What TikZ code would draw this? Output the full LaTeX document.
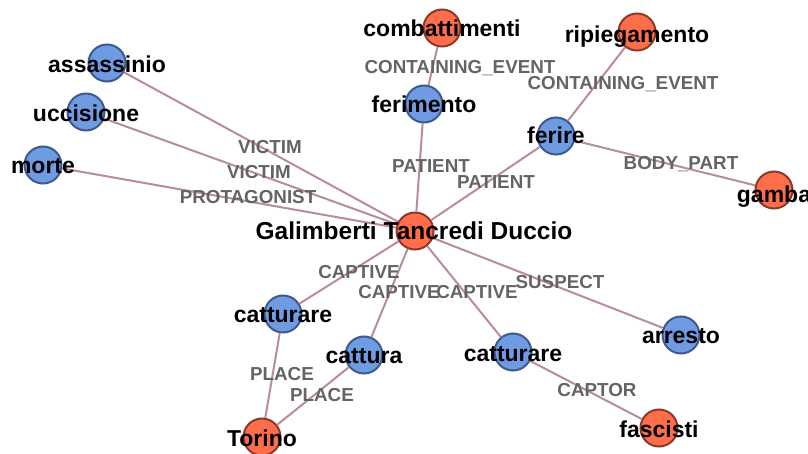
\documentclass[tikz,border=0pt]{standalone}
\usepackage{fontspec}
\setmainfont{Liberation Sans}
\definecolor{bfill}{RGB}{111,155,227}
\definecolor{bdraw}{RGB}{61,90,140}
\definecolor{ofill}{RGB}{255,110,74}
\definecolor{odraw}{RGB}{139,58,42}
\definecolor{edgec}{RGB}{185,140,155}
\definecolor{elabc}{RGB}{100,100,100}
\begin{document}
\begin{tikzpicture}[x=1pt,y=-1pt,
  bnode/.style={circle,draw=bdraw,fill=bfill,line width=2pt,minimum size=37pt,inner sep=0pt},
  onode/.style={circle,draw=odraw,fill=ofill,line width=2pt,minimum size=37pt,inner sep=0pt},
  nlab/.style={inner sep=0pt,text height=17pt,text depth=5pt,font=\fontsize{23}{23}\selectfont\bfseries,text=black},
  elab/.style={inner sep=0pt,text height=13.5pt,text depth=0pt,font=\fontsize{18.8}{18.8}\selectfont\bfseries,text=elabc},
  edge/.style={draw=edgec,line width=2pt}]
\useasboundingbox (0,0) rectangle (808,454);
% circles
\node[onode] (g) at (415,231) {};
\node[bnode] (ass) at (107,63) {};
\node[bnode] (ucc) at (86,112) {};
\node[bnode] (mor) at (43,165) {};
\node[onode] (com) at (442,28) {};
\node[onode] (rip) at (637,32) {};
\node[bnode] (fem) at (424,104) {};
\node[bnode] (fer) at (556,136) {};
\node[onode] (gam) at (774,190) {};
\node[bnode] (catl) at (283,314) {};
\node[bnode] (cat) at (364,355) {};
\node[onode] (tor) at (262,437) {};
\node[bnode] (catr) at (513,352) {};
\node[bnode] (arr) at (681,335) {};
\node[onode] (fas) at (659,428) {};
% edges
\draw[edge] (ass) -- (g);
\draw[edge] (ucc) -- (g);
\draw[edge] (mor) -- (g);
\draw[edge] (com) -- (fem);
\draw[edge] (fem) -- (g);
\draw[edge] (rip) -- (fer);
\draw[edge] (fer) -- (g);
\draw[edge] (fer) -- (gam);
\draw[edge] (g) -- (catl);
\draw[edge] (g) -- (cat);
\draw[edge] (g) -- (catr);
\draw[edge] (g) -- (arr);
\draw[edge] (catl) -- (tor);
\draw[edge] (cat) -- (tor);
\draw[edge] (catr) -- (fas);
% edge labels
\node[elab] (e1) at (270,147) {VICTIM};
\node[elab] (e2) at (259,172) {VICTIM};
\node[elab] (e3) at (248,197) {PROTAGONIST};
\node[elab] (e4) at (460,67) {CONTAINING\_EVENT};
\node[elab] (e5) at (623,83) {CONTAINING\_EVENT};
\node[elab] (e6) at (431,166) {PATIENT};
\node[elab] (e7) at (496,182) {PATIENT};
\node[elab] (e8) at (681,163) {BODY\_PART};
\node[elab] (e9) at (359,272) {CAPTIVE};
\node[elab] (e10) at (399,292) {CAPTIVE};
\node[elab] (e11) at (477,292) {CAPTIVE};
\node[elab] (e12) at (560,282) {SUSPECT};
\node[elab] (e13) at (282,374) {PLACE};
\node[elab] (e14) at (322,395) {PLACE};
\node[elab] (e15) at (597,390) {CAPTOR};
% node labels
\node[nlab,font=\fontsize{24.5}{24.5}\selectfont\bfseries] (gl) at (414,234) {Galimberti Tancredi Duccio};
\node[nlab] (assl) at (107,67) {assassinio};
\node[nlab] (uccl) at (86,116) {uccisione};
\node[nlab] (morl) at (43,168) {morte};
\node[nlab] (coml) at (442,31) {combattimenti};
\node[nlab] (ripl) at (637,37) {ripiegamento};
\node[nlab] (feml) at (424,107) {ferimento};
\node[nlab] (ferl) at (556,138) {ferire};
\node[nlab] (gaml) at (774,197) {gamba};
\node[nlab] (catll) at (283,316) {catturare};
\node[nlab] (catl2) at (364,357) {cattura};
\node[nlab] (torl) at (262,440) {Torino};
\node[nlab] (catrl) at (513,355) {catturare};
\node[nlab] (arrl) at (681,337) {arresto};
\node[nlab] (fasl) at (659,431) {fascisti};
\end{tikzpicture}
\end{document}
